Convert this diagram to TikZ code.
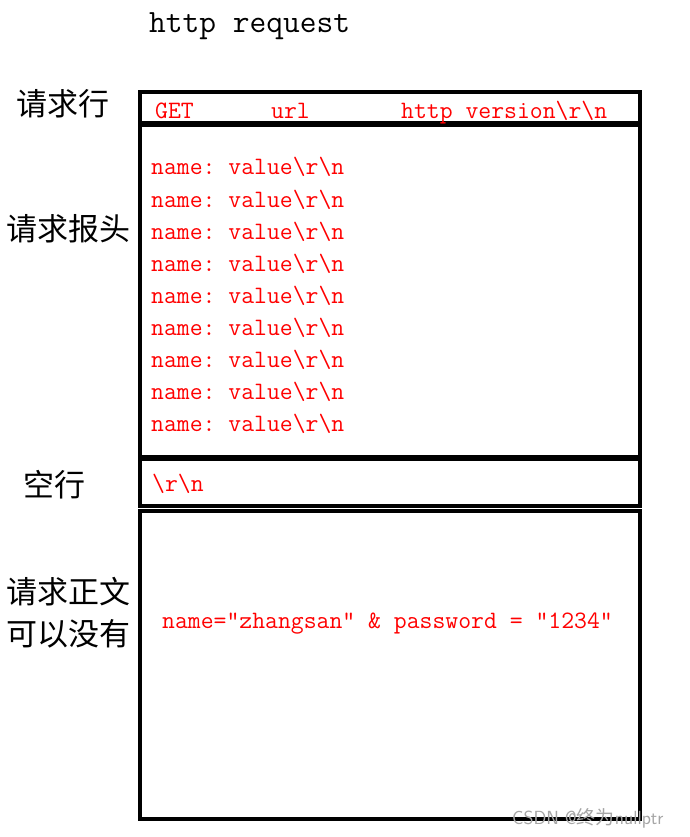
\documentclass[tikz,border=0pt]{standalone}
\usepackage{fontspec}
\newfontfamily\cjk{Noto Sans CJK SC}
\frenchspacing

\begin{document}
\begin{tikzpicture}[x=1pt, y=-1pt,
  part/.style={rectangle, draw=black, line width=4pt, minimum width=500pt,
               inner sep=0pt},
  lbl/.style={font=\cjk\fontsize{31}{42}\selectfont, align=center, inner sep=0pt},
  field/.style={text=red, font=\ttfamily\fontsize{25}{30}\selectfont,
                anchor=base west, inner sep=0pt},
  wmark/.style={text=gray!70, font=\fontsize{19}{22}\selectfont\sffamily, inner sep=0pt},
]
\useasboundingbox (0,0) rectangle (689,837);
% title
\node[font=\ttfamily\fontsize{32.5}{36}\selectfont, anchor=base west, inner sep=0pt]
  (title) at (149,33) {http request};
% the four parts of the request
\node[part, minimum height=31pt] (reqline) at (390,107.5) {};
\node[part, minimum height=331.5pt] (headers) at (390,291.25) {};
\node[part, minimum height=47pt] (blank) at (390,482.5) {};
\node[part, minimum height=308pt] (body) at (390,665) {};
% labels on the left
\node[lbl] (lreqline) at (63,104) {请求行};
\node[lbl] (lheaders) at (68,229) {请求报头};
\node[lbl] (lblank) at (54,485) {空行};
\node[lbl] (lbody) at (68,613) {请求正文\\可以没有};
% request line fields
\node[field] (method) at (155,119) {GET};
\node[field] (url) at (271,119) {url};
\node[field] (version) at (401,119) {http version\textbackslash r\textbackslash n};
% header lines
\foreach \k in {0,...,8}
  \node[field] (hdr\k) at (151,175+32*\k) {name: value\textbackslash r\textbackslash n};
\node[field] (crlf) at (152,491) {\textbackslash r\textbackslash n};
\node[field] (form) at (162,628) {name="zhangsan" \& password = "1234"};
% watermark
\node[wmark, anchor=west] (csdn) at (512,818) {CSDN @{\cjk 终为}nullptr};
\end{tikzpicture}
\end{document}
